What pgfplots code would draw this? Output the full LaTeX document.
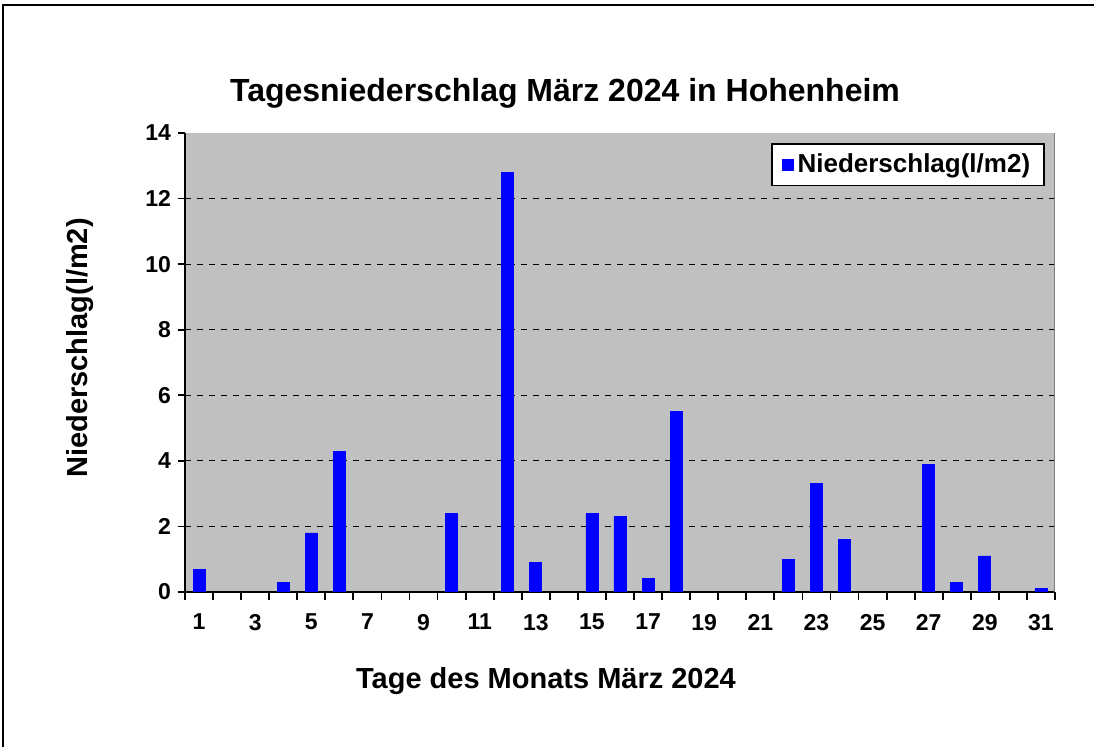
\documentclass[border=0pt]{standalone}
\usepackage{fontspec}
\setmainfont{Liberation Sans}
\usepackage{pgfplots}
\pgfplotsset{compat=1.18}
\definecolor{plotgray}{HTML}{C0C0C0}

\begin{document}
\begin{tikzpicture}
  % page frame (only top and left edges visible), 1px = 0.5pt
  \useasboundingbox (-92.5pt,-77.5pt) rectangle (454.5pt,296pt);
  \draw[black, line width=1.2pt] (-91pt,-77.5pt) -- (-91pt,293.5pt) -- (454.5pt,293.5pt);
  \begin{axis}[
    scale only axis,
    width=435pt, height=229.5pt,
    at={(0,0)}, anchor=south west,
    xmin=0.5, xmax=31.5, ymin=0, ymax=14,
    enlargelimits=false,
    axis background/.style={fill=plotgray},
    axis x line*=bottom, axis y line*=left,
    axis line style={black, line width=0.9pt},
    xtick={1,3,...,31},
    minor xtick={0.5,1.5,...,31.5},
    ytick={0,2,...,12},
    extra y ticks={14},
    extra y tick style={grid=none},
    major x tick style={draw=none},
    minor tick length=4pt,
    major tick length=3.5pt,
    tick align=outside,
    tick style={black, line width=0.9pt},
    ymajorgrids,
    major grid style={black, dashed, line width=0.6pt},
    /pgf/number format/assume math mode=true,
    ticklabel style={font=\bfseries\fontsize{11.5}{11.5}\selectfont},
    xticklabel style={yshift=-4pt},
    legend style={at={(axis description cs:1,1)}, anchor=north east,
      xshift=-5pt, yshift=-5pt, draw=black, line width=0.8pt, fill=white,
      font=\bfseries\fontsize{13}{14}\selectfont,
      inner xsep=5pt, inner ysep=3pt},
    legend image code/.code={\fill[blue] (0pt,-2.5pt) rectangle (5pt,2.5pt);},
  ]
    \addplot[ybar, bar width=6pt, fill=blue, draw=blue] coordinates {
      (1,0.7) (4,0.3) (5,1.8) (6,4.3) (10,2.4) (12,12.8) (13,0.9)
      (15,2.4) (16,2.3) (17,0.4) (18,5.5) (22,1.0) (23,3.3) (24,1.6)
      (27,3.9) (28,0.3) (29,1.1) (31,0.1)
    };
    \addlegendentry{Niederschlag(l/m2)}
    \draw[gray, line width=0.6pt] (rel axis cs:1,0) -- (rel axis cs:1,1);
  \end{axis}
  \node[font=\bfseries\fontsize{16}{16}\selectfont] at (190pt,249.5pt) {Tagesniederschlag März 2024 in Hohenheim};
  \node[font=\bfseries\fontsize{14.5}{14.5}\selectfont] at (180.5pt,-44.5pt) {Tage des Monats März 2024};
  \node[font=\bfseries\fontsize{14.5}{14.5}\selectfont, rotate=90] at (-52.5pt,122pt) {Niederschlag(l/m2)};
\end{tikzpicture}
\end{document}
